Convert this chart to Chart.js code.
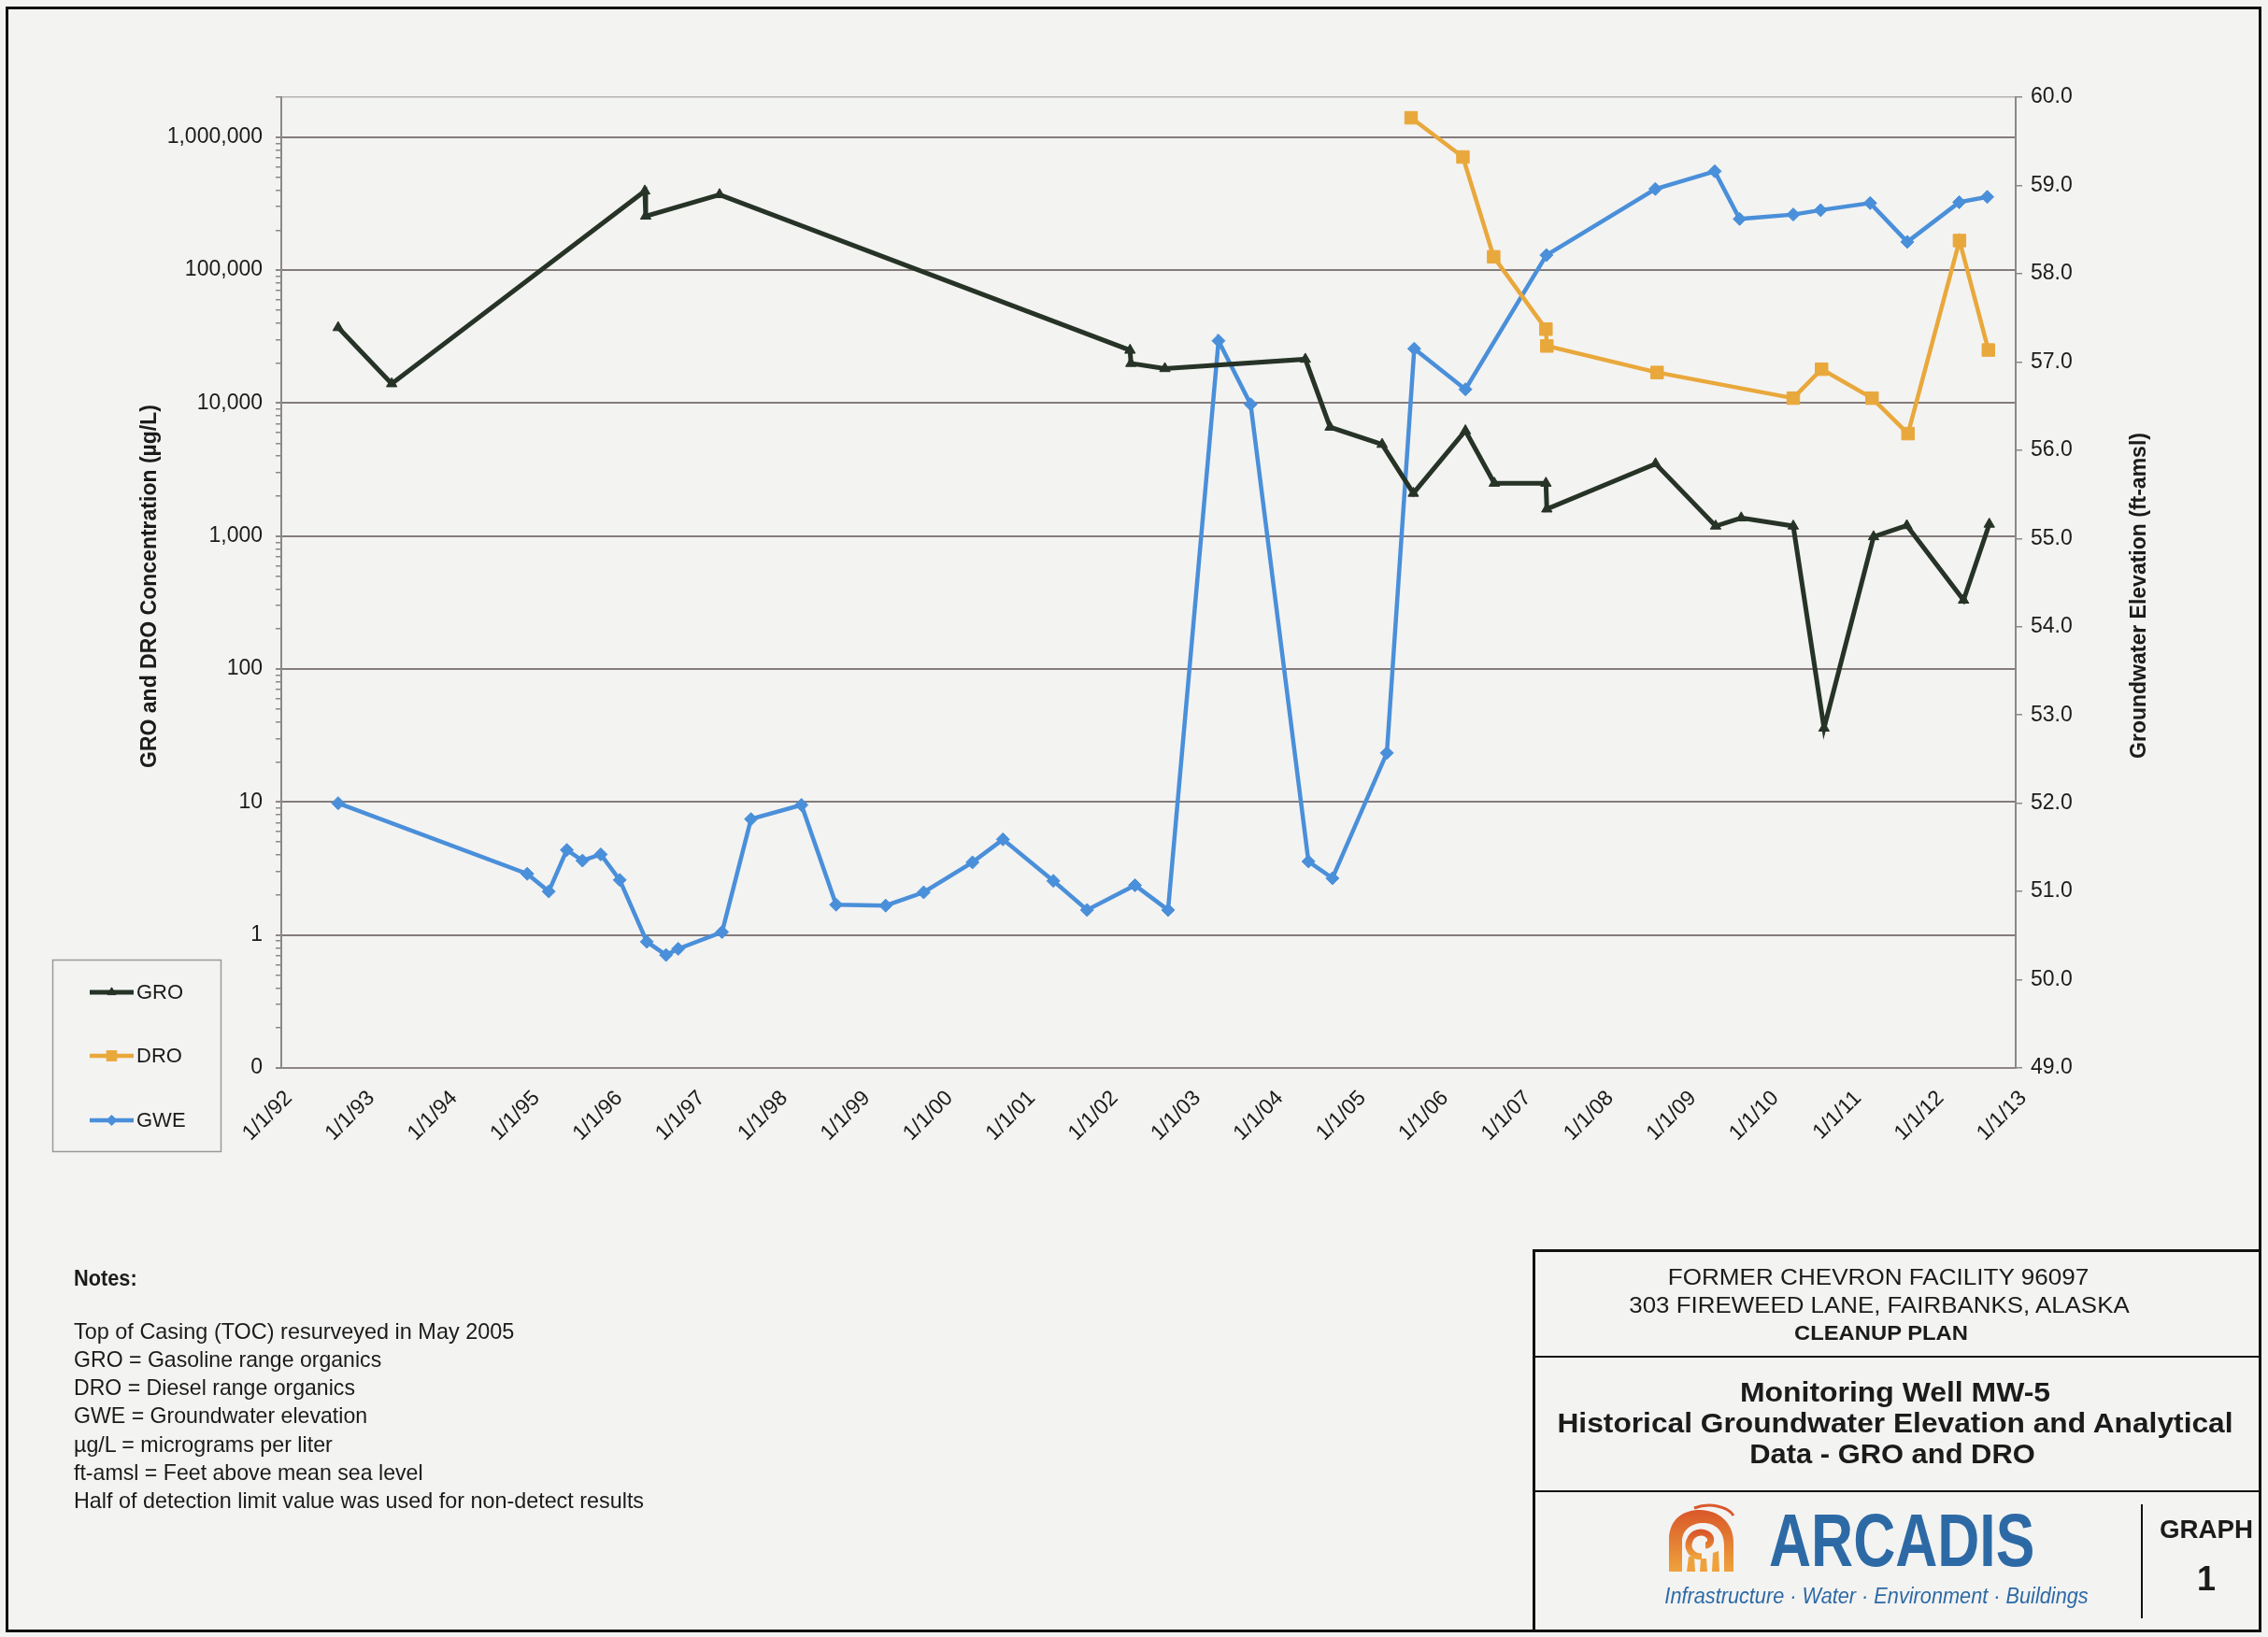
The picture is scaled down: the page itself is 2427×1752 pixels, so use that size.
<!DOCTYPE html>
<html>
<head>
<meta charset="utf-8">
<script src="https://cdn.jsdelivr.net/npm/chart.js@4.4.1/dist/chart.umd.min.js"></script>
<style>
  html, body { margin: 0; padding: 0; }
  body {
    width: 2427px; height: 1752px; position: relative; overflow: hidden;
    background: #f3f3f2; color: #1b1b1b;
    font-family: 'Liberation Sans', Arial, sans-serif;
  }
  #chart { position: absolute; left: 0; top: 0; }
  #frame { position: absolute; left: 6px; top: 7px; width: 2414px; height: 1740px;
           border: 3px solid #111; box-sizing: border-box; pointer-events: none; }
  .note { position: absolute; left: 79px; font-size: 24px; line-height: 30px; white-space: nowrap; transform-origin: 0 50%; }
  .b { font-weight: bold; }
  .c { position: absolute; white-space: nowrap; line-height: 1; transform: translate(-50%, -50%); }
  .hl { position: absolute; background: #111; }
</style>
</head>
<body>
<canvas id="chart" width="2427" height="1752"></canvas>
<div id="frame"></div>

<div class="note b fit" data-w="68" style="top:1353px">Notes:</div>
<div class="note fit" data-w="471" style="top:1410px">Top of Casing (TOC) resurveyed in May 2005</div>
<div class="note fit" data-w="329" style="top:1440px">GRO = Gasoline range organics</div>
<div class="note fit" data-w="301" style="top:1470px">DRO = Diesel range organics</div>
<div class="note fit" data-w="314" style="top:1500px">GWE = Groundwater elevation</div>
<div class="note fit" data-w="277" style="top:1531px">µg/L = micrograms per liter</div>
<div class="note fit" data-w="374" style="top:1561px">ft-amsl = Feet above mean sea level</div>
<div class="note fit" data-w="610" style="top:1591px">Half of detection limit value was used for non-detect results</div>

<!-- title block -->
<div class="hl" style="left:1640px;top:1337px;width:780px;height:3px"></div>
<div class="hl" style="left:1640px;top:1337px;width:3px;height:410px"></div>
<div class="hl" style="left:1640px;top:1451px;width:780px;height:2px"></div>
<div class="hl" style="left:1640px;top:1595px;width:780px;height:2px"></div>
<div class="hl" style="left:2291px;top:1610px;width:2px;height:122px"></div>

<div class="c fit" data-w="450" style="left:2010px;top:1367px;font-size:24px">FORMER CHEVRON FACILITY 96097</div>
<div class="c fit" data-w="535" style="left:2011px;top:1397px;font-size:24px">303 FIREWEED LANE, FAIRBANKS, ALASKA</div>
<div class="c b fit" data-w="186" style="left:2013px;top:1427px;font-size:22px">CLEANUP PLAN</div>
<div class="c b fit" data-w="332" style="left:2028px;top:1490px;font-size:30px">Monitoring Well MW-5</div>
<div class="c b fit" data-w="723" style="left:2028px;top:1523px;font-size:30px">Historical Groundwater Elevation and Analytical</div>
<div class="c b fit" data-w="306" style="left:2025px;top:1556px;font-size:30px">Data - GRO and DRO</div>

<svg style="position:absolute;left:1783px;top:1608px" width="76" height="76" viewBox="0 0 76 76">
  <defs>
    <linearGradient id="lg" x1="0" y1="0" x2="0" y2="1">
      <stop offset="0" stop-color="#d9582a"/>
      <stop offset="1" stop-color="#efa23c"/>
    </linearGradient>
  </defs>
  <path d="M30,6 C46,0 66,4 72,14" fill="none" stroke="#d9582a" stroke-width="3"/>
  <path d="M3,74 L3,40 C3,18 18,8 36,8 C56,8 72,22 72,42 L72,74 L62,74 L62,46 C62,30 52,22 40,22 C26,22 17,30 17,42 L17,74 Z" fill="url(#lg)"/>
  <path d="M38,58 C26,58 22,48 25,41 C28,32 38,30 44,34 C50,38 48,46 42,46" fill="none" stroke="url(#lg)" stroke-width="7"/>
  <path d="M22,74 L24,58 L30,58 L31,74 Z" fill="#efa23c"/>
  <path d="M36,74 L37,60 L43,60 L44,74 Z" fill="#efa23c"/>
  <path d="M49,74 L50,54 L56,52 L57,74 Z" fill="#efa23c"/>
</svg>
<div class="fit" data-w="284" style="position:absolute;left:1893px;top:1609px;font-size:80px;line-height:1;font-weight:bold;color:#2d6aa5;transform-origin:0 0;white-space:nowrap;font-family:'Liberation Sans Narrow','Liberation Sans',sans-serif">ARCADIS</div>
<div class="c fit" data-w="453" style="left:2008px;top:1708px;font-size:23px;font-style:italic;color:#2d6aa5">Infrastructure · Water · Environment · Buildings</div>
<div class="c b fit" data-w="100" style="left:2361px;top:1637px;font-size:28px">GRAPH</div>
<div class="c b" style="left:2361px;top:1690px;font-size:36px">1</div>

<script>
// sample dates and values
const groDates = ['1992-09-09', '1993-05-04', '1996-05-27', '1996-05-31', '1997-04-23',
  '2002-04-12', '2002-04-16', '2002-09-13', '2004-05-26', '2004-09-13', '2005-05-01',
  '2005-09-16', '2006-05-04', '2006-09-09', '2007-04-25', '2007-04-29', '2008-08-22',
  '2009-05-15', '2009-09-05', '2010-04-23', '2010-09-06', '2011-04-13', '2011-09-07',
  '2012-05-15', '2012-09-06'];
const groValues = [37000, 14000, 394000, 255000, 370000,
  25000, 19900, 18200, 21400, 6600, 4900,
  2100, 6200, 2500, 2500, 1600, 3500,
  1190, 1370, 1190, 36, 990, 1200,
  330, 1230];

const droDates = ['2005-09-06', '2006-04-23', '2006-09-06', '2007-04-25', '2007-04-29',
  '2008-08-29', '2010-04-23', '2010-08-26', '2011-04-06', '2011-09-12', '2012-04-27',
  '2012-09-02'];
const droValues = [1400000, 710000, 126000, 36000, 26900,
  17000, 10900, 18000, 10900, 5900, 167000,
  25100];

const gweDates = ['1992-09-09', '1994-12-24', '1995-03-29', '1995-06-17', '1995-08-25',
  '1995-11-14', '1996-02-06', '1996-06-05', '1996-08-29', '1996-10-22', '1997-05-04',
  '1997-09-09', '1998-04-20', '1998-09-20', '1999-04-27', '1999-10-12', '2000-05-15',
  '2000-09-27', '2001-05-08', '2001-10-04', '2002-05-04', '2002-09-27', '2003-05-08',
  '2003-09-27', '2004-06-09', '2004-09-23', '2005-05-22', '2005-09-20', '2006-05-04',
  '2007-04-27', '2008-08-21', '2009-05-11', '2009-08-29', '2010-04-23', '2010-08-22',
  '2011-03-29', '2011-09-09', '2012-04-26', '2012-08-28'];
const gweValues = [52.0, 51.2, 51.0, 51.47, 51.35,
  51.42, 51.13, 50.43, 50.28, 50.35, 50.54,
  51.82, 51.98, 50.85, 50.84, 50.99, 51.33,
  51.59, 51.12, 50.79, 51.07, 50.79, 57.24,
  56.52, 51.34, 51.15, 52.57, 57.15, 56.69,
  58.21, 58.96, 59.16, 58.62, 58.67, 58.72,
  58.80, 58.36, 58.81, 58.87];

const xTickYears = [1992, 1993, 1994, 1995, 1996, 1997, 1998, 1999, 2000, 2001, 2002,
  2003, 2004, 2005, 2006, 2007, 2008, 2009, 2010, 2011, 2012, 2013];
const xTickLabels = ['1/1/92', '1/1/93', '1/1/94', '1/1/95', '1/1/96', '1/1/97', '1/1/98',
  '1/1/99', '1/1/00', '1/1/01', '1/1/02', '1/1/03', '1/1/04', '1/1/05', '1/1/06', '1/1/07',
  '1/1/08', '1/1/09', '1/1/10', '1/1/11', '1/1/12', '1/1/13'];
const concTicks = [0.1, 1, 10, 100, 1000, 10000, 100000, 1000000];
const concTickLabels = ['0', '1', '10', '100', '1,000', '10,000', '100,000', '1,000,000'];
const concMax = 2000000;
const elevMin = 49, elevMax = 60;

const leftTitle = 'GRO and DRO Concentration (µg/L)';
const rightTitle = 'Groundwater Elevation (ft-amsl)';

const FONT = "'Liberation Sans', Arial, sans-serif";
const TXT = '#1b1b1b';
const AXIS = '#8c8888';
const GRID = '#857b7b';

// squeeze/stretch page text to the widths measured on the scan
document.querySelectorAll('.fit').forEach(el => {
  const k = (+el.dataset.w) / el.offsetWidth;
  el.style.transform = (el.classList.contains('c') ? 'translate(-50%, -50%) ' : '') + 'scaleX(' + k.toFixed(3) + ')';
});

// date string -> fractional year
function toYear(s) {
  const d = Date.parse(s + 'T00:00:00Z');
  const y = new Date(d).getUTCFullYear();
  const a = Date.UTC(y, 0, 1), b = Date.UTC(y + 1, 0, 1);
  return y + (d - a) / (b - a);
}
function points(dates, vals) {
  return dates.map((d, i) => ({ x: toYear(d), y: vals[i] }));
}

// log ticks: decades plus unlabeled minor marks
function concTickList() {
  const out = [];
  for (let i = 0; i < concTicks.length; i++) {
    out.push({ value: concTicks[i], major: true });
    if (i < concTicks.length - 1) {
      for (let m = 2; m <= 9; m++) out.push({ value: concTicks[i] * m, major: false });
    }
  }
  out.push({ value: concMax, major: false });
  return out;
}

const overlay = {
  id: 'overlay',
  afterDraw(chart) {
    const ctx = chart.ctx;
    const area = chart.chartArea;
    ctx.save();
    ctx.fillStyle = TXT;
    ctx.textAlign = 'center';
    ctx.textBaseline = 'middle';
    ctx.font = 'bold 23px ' + FONT;
    ctx.translate(area.left - 140, (area.top + area.bottom) / 2 + 4);
    ctx.rotate(-Math.PI / 2);
    ctx.fillText(leftTitle, 0, 0);
    ctx.setTransform(1, 0, 0, 1, 0, 0);
    ctx.translate(area.right + 133, (area.top + area.bottom) / 2 + 14);
    ctx.rotate(-Math.PI / 2);
    ctx.fillText(rightTitle, 0, 0);
    ctx.setTransform(1, 0, 0, 1, 0, 0);

    // legend box
    ctx.strokeStyle = '#9a9a9a';
    ctx.lineWidth = 1.5;
    ctx.strokeRect(56.5, 1027.5, 180, 205);
    const rows = [1062, 1130, 1199];
    chart.data.datasets.forEach((ds, i) => {
      const y = rows[i];
      ctx.strokeStyle = ds.borderColor;
      ctx.lineWidth = ds.borderWidth;
      ctx.beginPath();
      ctx.moveTo(96, y);
      ctx.lineTo(143, y);
      ctx.stroke();
      ctx.fillStyle = ds.backgroundColor;
      ctx.lineWidth = 1;
      Chart.helpers.drawPoint(ctx, { pointStyle: ds.pointStyle, radius: ds.pointRadius * 0.8, rotation: 0, borderWidth: 1 }, 119.5, y);
      ctx.fillStyle = TXT;
      ctx.font = '22px ' + FONT;
      ctx.textAlign = 'left';
      ctx.fillText(ds.label, 146, y + 1);
    });
    ctx.restore();
  }
};

new Chart(document.getElementById('chart'), {
  type: 'line',
  data: {
    datasets: [
      { label: 'GRO', data: points(groDates, groValues), yAxisID: 'y',
        borderColor: '#263326', backgroundColor: '#263326', borderWidth: 5,
        pointStyle: 'triangle', pointRadius: 6.5, pointBorderWidth: 1, tension: 0 },
      { label: 'DRO', data: points(droDates, droValues), yAxisID: 'y',
        borderColor: '#e9a83b', backgroundColor: '#e9a83b', borderWidth: 4.5,
        pointStyle: 'rect', pointRadius: 9.5, pointBorderWidth: 1, tension: 0 },
      { label: 'GWE', data: points(gweDates, gweValues), yAxisID: 'y2',
        borderColor: '#4a8fd9', backgroundColor: '#4a8fd9', borderWidth: 4.5,
        pointStyle: 'rectRot', pointRadius: 7, pointBorderWidth: 1, tension: 0 }
    ]
  },
  options: {
    responsive: false,
    animation: false,
    devicePixelRatio: 1,
    layout: { padding: { top: 104, left: 0, right: 0, bottom: 0 } },
    plugins: { legend: { display: false }, tooltip: { enabled: false } },
    scales: {
      x: {
        type: 'linear', min: xTickYears[0], max: xTickYears[xTickYears.length - 1],
        afterFit: s => { s.height = 609; },
        afterBuildTicks: s => { s.ticks = xTickYears.map(v => ({ value: v })); },
        ticks: {
          autoSkip: false, maxRotation: 45, minRotation: 45, padding: 19, labelOffset: 8,
          font: { size: 23, family: FONT }, color: TXT,
          callback: v => xTickLabels[xTickYears.indexOf(v)]
        },
        grid: { drawOnChartArea: false, drawTicks: false },
        border: { display: true, color: AXIS, width: 2 }
      },
      y: {
        type: 'logarithmic', position: 'left', min: concTicks[0], max: concMax,
        afterFit: s => { s.width = 301; },
        afterBuildTicks: s => { s.ticks = concTickList(); },
        ticks: {
          autoSkip: false, padding: 14, font: { size: 23, family: FONT }, color: TXT,
          callback: v => { const i = concTicks.indexOf(v); return i >= 0 ? concTickLabels[i] : ''; }
        },
        grid: {
          color: c => concTicks.includes(c.tick.value) ? GRID : (c.tick.value === concMax ? '#b7b2b2' : 'rgba(0,0,0,0)'),
          lineWidth: c => concTicks.includes(c.tick.value) ? 2 : 1.5,
          tickColor: AXIS, tickLength: 6
        },
        border: { display: true, color: AXIS, width: 2 }
      },
      y2: {
        type: 'linear', position: 'right', min: elevMin, max: elevMax,
        afterFit: s => { s.width = 270; },
        ticks: {
          stepSize: 1, padding: 9, font: { size: 23, family: FONT }, color: TXT,
          callback: v => v.toFixed(1)
        },
        grid: { drawOnChartArea: false, tickLength: 7, color: AXIS, lineWidth: 1.5 },
        border: { display: true, color: AXIS, width: 2 }
      }
    }
  },
  plugins: [overlay]
});
</script>
</body>
</html>
